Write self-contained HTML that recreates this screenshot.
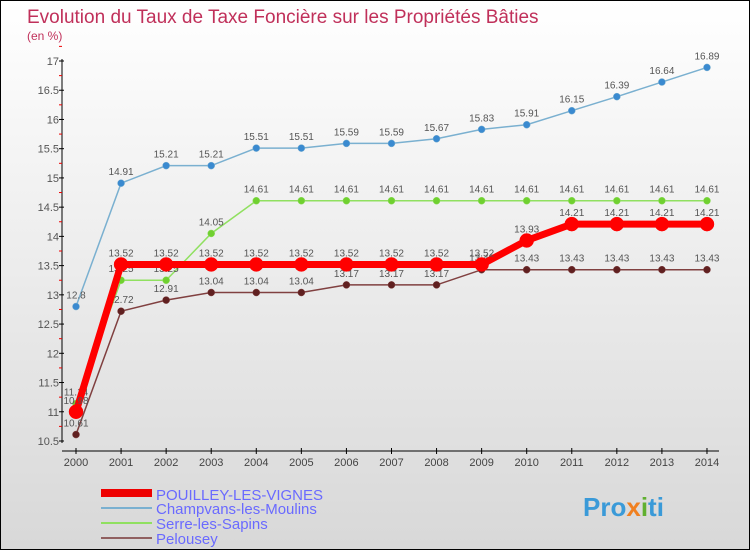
<!DOCTYPE html>
<html><head><meta charset="utf-8"><style>
body{margin:0}
#c{width:748px;height:548px;border:1px solid #000;background:linear-gradient(#fff,#d8d8d8);position:relative;font-family:"Liberation Sans",sans-serif;overflow:hidden}
</style></head><body>
<div id="c">
<svg id="s" width="748" height="548" xmlns="http://www.w3.org/2000/svg">
<text x="26" y="22" font-size="19" fill="#c0305a">Evolution du Taux de Taxe Foncière sur les Propriétés Bâties</text>
<text x="26" y="39" font-size="12" fill="#c0305a">(en %)</text>
<g id="axes"></g><g id="series"></g>
<g>
<line x1="100" y1="492" x2="151" y2="492" stroke="#e00" stroke-width="8"/>
<text x="155" y="499" font-size="15" fill="#6a6aff">POUILLEY-LES-VIGNES</text>
<line x1="100" y1="507" x2="151" y2="507" stroke="#7ab0d0" stroke-width="2"/>
<text x="155" y="513" font-size="15" fill="#6a6aff">Champvans-les-Moulins</text>
<line x1="100" y1="522" x2="151" y2="522" stroke="#90e060" stroke-width="2"/>
<text x="155" y="528" font-size="15" fill="#6a6aff">Serre-les-Sapins</text>
<line x1="100" y1="537" x2="151" y2="537" stroke="#906060" stroke-width="2"/>
<text x="155" y="543" font-size="15" fill="#6a6aff">Pelousey</text>
</g>
<text x="582" y="515" font-size="26" font-weight="bold" fill="#3a9ad8">Pro<tspan fill="#f08020">x</tspan><tspan fill="#60b030">i</tspan>ti</text>
</svg></div>
<script>
const years=[2000,2001,2002,2003,2004,2005,2006,2007,2008,2009,2010,2011,2012,2013,2014];
const yTicks=[10.5,11,11.5,12,12.5,13,13.5,14,14.5,15,15.5,16,16.5,17];
const pouilley=[11,13.52,13.52,13.52,13.52,13.52,13.52,13.52,13.52,13.52,13.93,14.21,14.21,14.21,14.21];
const champvans=[12.8,14.91,15.21,15.21,15.51,15.51,15.59,15.59,15.67,15.83,15.91,16.15,16.39,16.64,16.89];
const serre=[11.14,13.25,13.25,14.05,14.61,14.61,14.61,14.61,14.61,14.61,14.61,14.61,14.61,14.61,14.61];
const pelousey=[10.61,12.72,12.91,13.04,13.04,13.04,13.17,13.17,13.17,13.43,13.43,13.43,13.43,13.43,13.43];
const pouilleyLabels=["10.98","13.52","13.52","13.52","13.52","13.52","13.52","13.52","13.52","13.52","13.93","14.21","14.21","14.21","14.21"];
const NS="http://www.w3.org/2000/svg";
const X=i=>75+i*45.07, Y=v=>60+(17-v)*58.46;
function mk(t,a,p){const e=document.createElementNS(NS,t);for(const k in a)e.setAttribute(k,a[k]);p.appendChild(e);return e;}
const ax=document.getElementById('axes'), sg=document.getElementById('series');
let l=mk('line',{x1:61,y1:58,x2:61,y2:442,stroke:'#000'},ax);


l=mk('line',{x1:61,y1:450,x2:718,y2:450,stroke:'#000'},ax);


yTicks.forEach(v=>{mk('line',{x1:58,y1:Y(v),x2:63,y2:Y(v),stroke:'#000'},ax);
 mk('line',{x1:58,y1:Y(v+0.25),x2:61,y2:Y(v+0.25),stroke:'#e00'},ax);
 const t=mk('text',{x:58,y:Y(v)+4,'font-size':11,fill:'#555','text-anchor':'end'},ax);t.textContent=String(v);
 
 });
years.forEach((yr,i)=>{mk('line',{x1:X(i),y1:447,x2:X(i),y2:453,stroke:'#000'},ax);
 const t=mk('text',{x:X(i),y:465,'font-size':11,fill:'#444','text-anchor':'middle'},ax);t.textContent=yr;
 
 });
function draw(vals,col,dot,w,r,name,labels){
 const g=mk('g',{},sg);
 
 
 mk('polyline',{points:vals.map((v,i)=>X(i)+','+Y(v)).join(' '),fill:'none',stroke:col,'stroke-width':w},g);
 vals.forEach((v,i)=>{const c=mk('circle',{cx:X(i),cy:Y(v),r:r,fill:dot,stroke:col,'stroke-width':0.5},g);
  
  
  const t=mk('text',{x:X(i),y:Y(v)-8,'font-size':10,fill:'#555','text-anchor':'middle'},g);
  t.textContent=labels?labels[i]:v.toFixed(2).replace(/0$/,'').replace(/\.0$/,'');});
}
draw(champvans,'#7ab0d0','#3a8ad0',1.5,3.5,'series-champvans');
draw(serre,'#90e060','#70d030',1.5,3.5,'series-serre');
draw(pelousey,'#804040','#602020',1.5,3.5,'series-pelousey');
draw(pouilley,'#f00','#f00',7,7,'series-pouilley',pouilleyLabels);
</script>
</body></html>
